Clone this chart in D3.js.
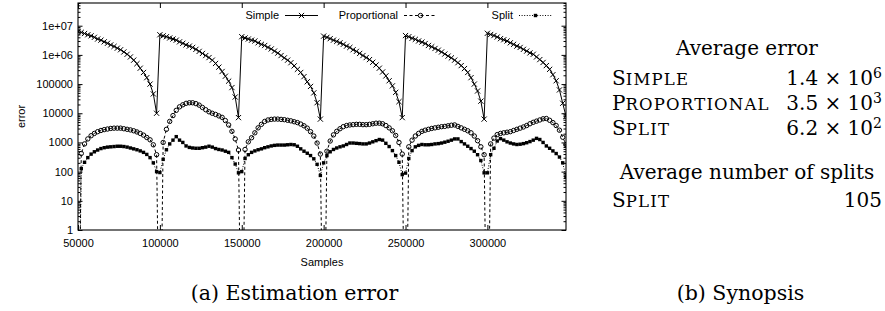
<!DOCTYPE html>
<html>
<head>
<meta charset="utf-8">
<script src="https://cdn.jsdelivr.net/npm/d3@7"></script>
<style>
  body { margin: 0; background: #fff; }
  svg { display: block; }
</style>
</head>
<body>
<svg id="chart" width="885" height="311"></svg>
<script>
// sample positions (one point every 2000 samples)
var sampleStart = 50000, sampleEnd = 348000, sampleStep = 2000;

var xTicks = [50000, 100000, 150000, 200000, 250000, 300000];
var yTicks = [1, 10, 100, 1000, 10000, 100000, 1e6, 1e7];
var yTickLabels = ["1", "10", "100", "1000", "10000", "100000", "1e+06", "1e+07"];

var seriesNames = ["Simple", "Proportional", "Split"];

// error of the Simple estimator
var simple = [
  6.3e6, 5.9e6, 5.4e6, 4.9e6, 4.5e6, 4.0e6, 3.5e6, 3.2e6, 2.8e6, 2.5e6, 2.2e6, 1.95e6, 1.7e6, 1.5e6, 1.26e6, 1.05e6, 8.5e5, 6.6e5, 5.0e5, 3.5e5, 2.5e5, 1.66e5, 1.0e5, 4.6e4, 1.0e4,
  4.9e6, 4.5e6, 4.2e6, 3.8e6, 3.5e6, 3.2e6, 2.8e6, 2.5e6, 2.2e6, 2.0e6, 1.8e6, 1.55e6, 1.32e6, 1.12e6, 9.5e5, 8.1e5, 6.6e5, 5.1e5, 3.8e5, 2.7e5, 1.86e5, 1.26e5, 7.6e4, 3.6e4, 7.1e3,
  4.2e6, 3.8e6, 3.5e6, 3.2e6, 3.0e6, 2.6e6, 2.3e6, 2.1e6, 1.8e6, 1.6e6, 1.35e6, 1.15e6, 9.5e5, 7.9e5, 6.6e5, 5.4e5, 4.2e5, 3.2e5, 2.5e5, 1.8e5, 1.2e5, 8.3e4, 5.0e4, 2.3e4, 6.3e3,
  4.4e6, 4.0e6, 3.6e6, 3.2e6, 2.9e6, 2.6e6, 2.3e6, 2.0e6, 1.8e6, 1.5e6, 1.32e6, 1.12e6, 9.5e5, 8.1e5, 6.9e5, 5.6e5, 4.5e5, 3.5e5, 2.6e5, 1.9e5, 1.3e5, 8.7e4, 5.2e4, 2.5e4, 7.1e3,
  4.6e6, 4.2e6, 3.7e6, 3.4e6, 3.0e6, 2.75e6, 2.45e6, 2.1e6, 1.9e6, 1.66e6, 1.45e6, 1.26e6, 1.07e6, 9.1e5, 7.9e5, 6.6e5, 5.4e5, 4.3e5, 3.4e5, 2.5e5, 1.66e5, 1.0e5, 5.8e4, 2.6e4, 6.3e3,
  5.5e6, 5.0e6, 4.6e6, 4.1e6, 3.6e6, 3.3e6, 3.0e6, 2.6e6, 2.3e6, 2.0e6, 1.8e6, 1.55e6, 1.35e6, 1.17e6, 1.05e6, 8.5e5, 6.9e5, 5.5e5, 4.3e5, 3.2e5, 2.1e5, 1.3e5, 6.3e4, 2.2e4, 7.9e3
];

// error of the Proportional estimator (1e-6 = falls to zero, below the axis)
var proportional = [
  1e-6, 420, 890, 1320, 1700, 2040, 2340, 2570, 2750, 2880, 3020, 3090, 3090, 3090, 2950, 2820, 2690, 2510, 2290, 2040, 1780, 1480, 1230, 830, 380,
  1e-6, 1000, 2820, 5250, 8320, 12600, 16600, 19500, 21900, 22900, 22900, 21400, 19000, 15800, 13200, 11200, 10000, 9120, 8130, 7240, 5620, 3980, 2400, 1320, 550,
  1e-6, 575, 1050, 1450, 2140, 3160, 4170, 5250, 5890, 6170, 6310, 6310, 6170, 6030, 5750, 5500, 5130, 4790, 4270, 3720, 3090, 2340, 1660, 955, 400,
  1e-6, 500, 1120, 1820, 2400, 2950, 3470, 3800, 3980, 4070, 4170, 4170, 4070, 4070, 4170, 4370, 4570, 4570, 4370, 3800, 3160, 2510, 1740, 1000, 400,
  1e-6, 710, 1200, 1660, 2040, 2400, 2630, 2820, 3020, 3160, 3310, 3470, 3550, 3720, 3890, 3980, 3550, 3160, 2820, 2510, 2140, 1660, 1150, 710, 380,
  1e-6, 890, 1410, 1860, 2040, 2140, 2240, 2340, 2570, 2820, 3090, 3390, 3800, 4370, 4900, 5370, 5890, 6460, 6610, 5750, 4790, 3800, 2630, 1510, 850
];

// error of the Split estimator
var split = [
  1e-6, 126, 209, 302, 398, 479, 550, 617, 661, 692, 708, 724, 741, 741, 724, 692, 646, 603, 562, 513, 457, 389, 302, 200, 100,
  93, 263, 562, 891, 1200, 1580, 1200, 1000, 759, 676, 646, 631, 631, 661, 692, 741, 692, 617, 575, 550, 501, 457, 302, 182, 91,
  100, 282, 380, 457, 513, 562, 603, 661, 708, 759, 794, 813, 813, 813, 832, 851, 832, 741, 603, 501, 427, 355, 275, 178, 74,
  200, 355, 479, 575, 646, 708, 759, 851, 955, 955, 933, 912, 891, 891, 955, 1050, 1150, 1260, 1200, 933, 724, 525, 355, 209, 79,
  89, 282, 525, 708, 794, 851, 832, 832, 851, 891, 912, 955, 1020, 1100, 1200, 1320, 1320, 1070, 891, 741, 617, 501, 380, 240, 91,
  91, 380, 631, 1120, 1350, 1200, 1050, 955, 891, 851, 871, 912, 977, 1070, 1200, 1380, 1260, 1000, 759, 631, 513, 417, 316, 200, 66
];

// synopsis panel
var synopsisMethods = ["Simple", "Proportional", "Split"];
var avgErrorMantissa = ["1.4", "3.5", "6.2"];
var avgErrorExponent = ["6", "3", "2"];
var splitsMethods = ["Split"];
var avgSplits = ["105"];

var sansFont = "'Liberation Sans', Arial, Helvetica, sans-serif";
var serifFont = "'DejaVu Serif', serif";

var svg = d3.select("#chart");
var plot = { left: 78, top: 3, right: 566, bottom: 230 };

var samples = d3.range(sampleStart, sampleEnd + 1, sampleStep);
var rows = samples.map(function(s, i) {
  return { s: s, simple: simple[i], proportional: proportional[i], split: split[i] };
});

var x = d3.scaleLinear().domain([50000, 348000]).range([plot.left, plot.right]);
var y = d3.scaleLog().domain([1, 6e7]).range([plot.bottom, plot.top]);

var defs = svg.append("defs");
defs.append("clipPath").attr("id", "plot-clip")
  .append("rect")
  .attr("x", plot.left)
  .attr("y", plot.top)
  .attr("width", plot.right - plot.left)
  .attr("height", plot.bottom - plot.top);

// minor ticks on the log axis (2..9 of every decade)
var minorTicks = y.ticks().filter(function(d) { return yTicks.indexOf(d) < 0; });

function styleAxis(g) {
  g.select(".domain").remove();
  g.selectAll("line").attr("stroke", "#000").attr("stroke-width", 1);
  g.selectAll("text").attr("fill", "#000").style("font-family", sansFont).style("font-size", "11px");
}

svg.append("g")
  .attr("transform", "translate(" + plot.left + ",0)")
  .call(d3.axisLeft(y).tickValues(yTicks).tickSize(-4.5).tickPadding(5)
    .tickFormat(function(d, i) { return yTickLabels[i]; }))
  .call(styleAxis);
svg.append("g")
  .attr("transform", "translate(" + plot.left + ",0)")
  .call(d3.axisLeft(y).tickValues(minorTicks).tickSize(-2.5).tickFormat(""))
  .call(styleAxis);
svg.append("g")
  .attr("transform", "translate(" + plot.right + ",0)")
  .call(d3.axisRight(y).tickValues(yTicks).tickSize(-4.5).tickFormat(""))
  .call(styleAxis);
svg.append("g")
  .attr("transform", "translate(" + plot.right + ",0)")
  .call(d3.axisRight(y).tickValues(minorTicks).tickSize(-2.5).tickFormat(""))
  .call(styleAxis);
svg.append("g")
  .attr("transform", "translate(0," + plot.bottom + ")")
  .call(d3.axisBottom(x).tickValues(xTicks).tickSize(-5).tickPadding(9).tickFormat(d3.format("d")))
  .call(styleAxis);
svg.append("g")
  .attr("transform", "translate(0," + plot.top + ")")
  .call(d3.axisTop(x).tickValues(xTicks).tickSize(-5).tickFormat(""))
  .call(styleAxis);

// axis titles
svg.append("text")
  .attr("transform", "translate(21," + ((plot.top + plot.bottom) / 2) + ") rotate(-90)")
  .attr("text-anchor", "middle")
  .attr("dy", "0.35em")
  .style("font-family", sansFont)
  .style("font-size", "11px")
  .text("error");
svg.append("text")
  .attr("x", (plot.left + plot.right) / 2)
  .attr("y", 265.5)
  .attr("text-anchor", "middle")
  .style("font-family", sansFont)
  .style("font-size", "11px")
  .text("Samples");

// marker shapes
var markers = {
  Simple: function(g) {
    g.append("path").attr("d", "M-2.6,-2.6L2.6,2.6M-2.6,2.6L2.6,-2.6")
      .attr("stroke", "#000").attr("stroke-width", 1).attr("fill", "none");
  },
  Proportional: function(g) {
    g.append("circle").attr("r", 2.2)
      .attr("stroke", "#000").attr("stroke-width", 1).attr("fill", "none");
  },
  Split: function(g) {
    g.append("rect").attr("x", -1.7).attr("y", -1.7).attr("width", 3.4).attr("height", 3.4)
      .attr("fill", "#000");
  }
};
var dashes = { Simple: null, Proportional: "3,2.5", Split: "1,1.6" };
var keys = { Simple: "simple", Proportional: "proportional", Split: "split" };

var lines = svg.append("g").attr("clip-path", "url(#plot-clip)");

seriesNames.forEach(function(name) {
  var key = keys[name];
  var line = d3.line()
    .x(function(d) { return x(d.s); })
    .y(function(d) { return y(d[key]); });

  lines.append("path")
    .datum(rows)
    .attr("d", line)
    .attr("fill", "none")
    .attr("stroke", "#000")
    .attr("stroke-width", 1)
    .attr("stroke-dasharray", dashes[name]);

  lines.selectAll("g.m-" + key)
    .data(rows)
    .join("g")
    .attr("class", "m-" + key)
    .attr("transform", function(d) { return "translate(" + x(d.s) + "," + y(d[key]) + ")"; })
    .each(function() { markers[name](d3.select(this)); });
});

// legend along the top of the plot
var legendX = [279, 398, 513];
var legend = svg.append("g");
seriesNames.forEach(function(name, i) {
  var lx = legendX[i], ly = 15.5;
  legend.append("text")
    .attr("x", lx).attr("y", ly).attr("dy", "0.35em")
    .attr("text-anchor", "end")
    .style("font-family", sansFont)
    .style("font-size", "11px")
    .text(name);
  legend.append("line")
    .attr("x1", lx + 6).attr("x2", lx + 39).attr("y1", ly).attr("y2", ly)
    .attr("stroke", "#000").attr("stroke-width", 1)
    .attr("stroke-dasharray", dashes[name]);
  var m = legend.append("g").attr("transform", "translate(" + (lx + 22.5) + "," + ly + ")");
  markers[name](m);
});

// plot border
svg.append("rect")
  .attr("x", plot.left).attr("y", plot.top)
  .attr("width", plot.right - plot.left).attr("height", plot.bottom - plot.top)
  .attr("fill", "none").attr("stroke", "#000").attr("stroke-width", 1.1);

// captions
svg.append("text")
  .attr("x", 294.5).attr("y", 300)
  .attr("text-anchor", "middle")
  .style("font-family", serifFont).style("font-size", "20.5px")
  .text("(a) Estimation error");
svg.append("text")
  .attr("x", 740.5).attr("y", 300)
  .attr("text-anchor", "middle")
  .style("font-family", serifFont).style("font-size", "20.5px")
  .text("(b) Synopsis");

// synopsis panel
var synLeft = 612, synRight = 882;

function smallCaps(sel, word) {
  sel.append("tspan").style("font-size", "20px").text(word.charAt(0));
  sel.append("tspan").style("font-size", "16.5px").style("letter-spacing", "1.2px")
    .text(word.slice(1).toUpperCase());
}

function synText(xPos, yPos, anchor) {
  return svg.append("text")
    .attr("x", xPos).attr("y", yPos)
    .attr("text-anchor", anchor)
    .style("font-family", serifFont).style("font-size", "20px")
    .attr("fill", "#000");
}

synText((synLeft + synRight) / 2, 55, "middle").text("Average error");
var rowY = [85, 110, 135];
synopsisMethods.forEach(function(name, i) {
  smallCaps(synText(synLeft, rowY[i], "start"), name);
  var t = synText(synRight, rowY[i], "end");
  t.append("tspan").text(avgErrorMantissa[i] + " \u00d7 10");
  t.append("tspan").attr("dy", -7).style("font-size", "14px").text(avgErrorExponent[i]);
});

synText((synLeft + synRight) / 2, 179, "middle").text("Average number of splits");
splitsMethods.forEach(function(name, i) {
  smallCaps(synText(synLeft, 206.5 + i * 25, "start"), name);
  synText(synRight, 206.5 + i * 25, "end").text(avgSplits[i]);
});
</script>
</body>
</html>
